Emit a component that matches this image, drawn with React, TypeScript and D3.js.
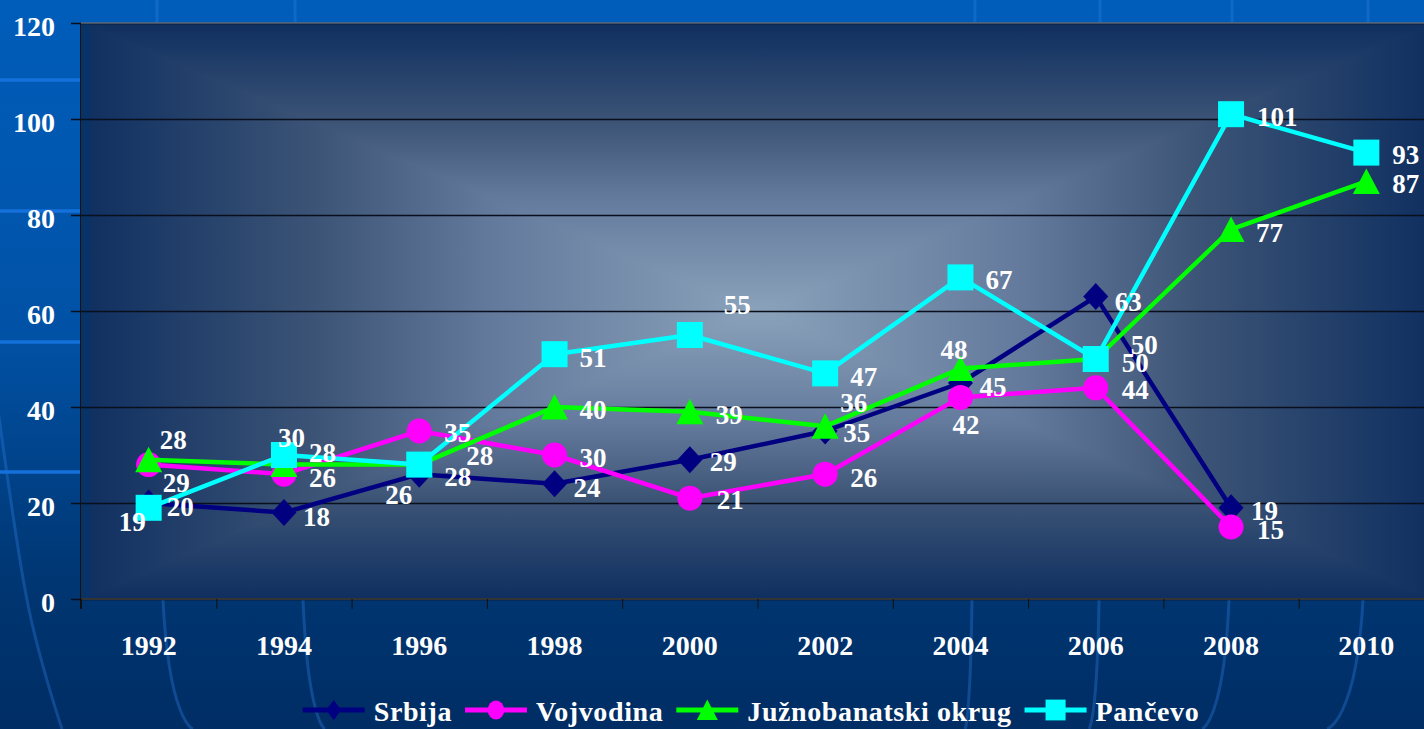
import React, { useEffect, useRef } from "react";
import * as d3 from "d3";

// chart data
const years = ["1992", "1994", "1996", "1998", "2000", "2002", "2004", "2006", "2008", "2010"];
const srbija = [20, 18, 26, 24, 29, 35, 45, 63, 19, null];
const vojvodina = [28, 26, 35, 30, 21, 26, 42, 44, 15, null];
const juznobanatski = [29, 28, 28, 40, 39, 36, 48, 50, 77, 87];
const pancevo = [19, 30, 28, 51, 55, 47, 67, 50, 101, 93];
const yTicks = [0, 20, 40, 60, 80, 100, 120];
const seriesNames = ["Srbija", "Vojvodina", "Južnobanatski okrug", "Pančevo"];

// label nudges [dx, dy] from the point (labels were hand-placed in the original)
const labelNudge = [
  [[18, 4], [19, 4], [-34, 21], [19, 4], [20, 2], [18, 2], [19, 4], [19, 5], [20, 3], [0, 0]],
  [[11, -25], [25, 4], [25, 2], [25, 3], [27, 2], [25, 4], [-8, 28], [26, 2], [26, 3], [0, 0]],
  [[14, 23], [25, -12], [47, -9], [25, 3], [26, 3], [15, -23], [-20, -19], [35, -14], [25, 4], [26, 3]],
  [[-30, 14], [-6, -17], [25, 12], [25, 4], [34, -30], [25, 4], [25, 3], [26, 4], [26, 3], [26, 2]],
];

const W = 1424;
const H = 729;
const FONT = "'Liberation Serif', 'DejaVu Serif', serif";

const App = () => {
  const svgRef = useRef(null);

  useEffect(() => {
    document.body.style.margin = "0";
    const svg = d3.select(svgRef.current);
    svg.selectAll("*").remove();

    const plot = { left: 81, top: 23, right: 81 + 135.3 * 10, bottom: 599 };
    const cx = (plot.left + plot.right) / 2;
    const cy = (plot.top + plot.bottom) / 2;

    const x = d3.scaleBand().domain(years).range([plot.left, plot.right]).paddingInner(0);
    const xc = (i) => x(years[i]) + x.bandwidth() / 2;
    const y = d3.scaleLinear().domain([0, 120]).range([plot.bottom, plot.top]);

    const defs = svg.append("defs");

    // slide background
    const bg = defs.append("linearGradient").attr("id", "slideBg").attr("x1", 0).attr("y1", 0).attr("x2", 0).attr("y2", 1);
    [["0%", "#005DBA"], ["45%", "#0152A6"], ["80%", "#003672"], ["100%", "#002D64"]].forEach(([o, c]) =>
      bg.append("stop").attr("offset", o).attr("stop-color", c)
    );
    svg.append("rect").attr("width", W).attr("height", H).attr("fill", "url(#slideBg)");

    // decorative slide lines
    const deco = svg.append("g").attr("fill", "none").attr("stroke", "rgba(45,125,225,0.35)").attr("stroke-width", 3);
    const fan = [
      [[-6, 380], [27, 600], [62, 729]],
      [[157, 0], [163, 600], [193, 729]],
      [[295, 0], [303, 600], [325, 729]],
      [[975, 0], [972, 600], [965, 729]],
      [[1100, 0], [1099, 600], [1089, 729]],
      [[1232, 0], [1229, 600], [1202, 729]],
      [[1368, 0], [1363, 600], [1327, 729]],
    ];
    fan.forEach((pts) => deco.append("path").attr("d", d3.line().curve(d3.curveCardinal)(pts)));
    [80, 211, 342, 472].forEach((yy) =>
      svg.append("line").attr("x1", 0).attr("x2", plot.left).attr("y1", yy).attr("y2", yy)
        .attr("stroke", "#1470DA").attr("stroke-width", 3.5)
    );

    // plot area: rectangular "from center" gradient built from four triangles
    const stops = [["0%", "#0F2F60"], ["35%", "#3C5476"], ["60%", "#63799C"], ["100%", "#8AA2BA"]];
    const tri = [
      { id: "gTop", g: [cx, plot.top, cx, cy], pts: [[plot.left, plot.top], [plot.right, plot.top], [cx, cy]] },
      { id: "gBot", g: [cx, plot.bottom, cx, cy], pts: [[plot.left, plot.bottom], [plot.right, plot.bottom], [cx, cy]] },
      { id: "gLeft", g: [plot.left, cy, cx, cy], pts: [[plot.left, plot.top], [plot.left, plot.bottom], [cx, cy]] },
      { id: "gRight", g: [plot.right, cy, cx, cy], pts: [[plot.right, plot.top], [plot.right, plot.bottom], [cx, cy]] },
    ];
    tri.forEach((t) => {
      const lg = defs.append("linearGradient").attr("id", t.id).attr("gradientUnits", "userSpaceOnUse")
        .attr("x1", t.g[0]).attr("y1", t.g[1]).attr("x2", t.g[2]).attr("y2", t.g[3]);
      stops.forEach(([o, c]) => lg.append("stop").attr("offset", o).attr("stop-color", c));
    });
    svg.append("rect").attr("x", plot.left).attr("y", plot.top)
      .attr("width", plot.right - plot.left).attr("height", plot.bottom - plot.top).attr("fill", "#3C5476");
    tri.forEach((t) =>
      svg.append("path").attr("d", "M" + t.pts.map((p) => p.join(",")).join("L") + "Z")
        .attr("fill", `url(#${t.id})`).attr("stroke", `url(#${t.id})`).attr("stroke-width", 0.8)
    );
    // darker strip along the left edge
    svg.append("rect").attr("x", plot.left).attr("y", plot.top).attr("width", 10)
      .attr("height", plot.bottom - plot.top).attr("fill", "#03386E").attr("opacity", 0.45);

    // gridlines + y ticks
    yTicks.forEach((t) => {
      svg.append("line").attr("x1", plot.left - 10).attr("x2", plot.right)
        .attr("y1", y(t) + 0.5).attr("y2", y(t) + 0.5)
        .attr("stroke", "#0a0f1c").attr("stroke-width", 1.3);
    });
    svg.append("line").attr("x1", plot.left).attr("x2", plot.right).attr("y1", plot.top).attr("y2", plot.top)
      .attr("stroke", "#8592A2").attr("stroke-width", 1.2);

    // axes
    svg.append("line").attr("x1", plot.left - 0.5).attr("x2", plot.left - 0.5)
      .attr("y1", plot.top).attr("y2", plot.bottom + 10).attr("stroke", "#111").attr("stroke-width", 1);
    svg.append("line").attr("x1", plot.left).attr("x2", plot.right)
      .attr("y1", plot.bottom).attr("y2", plot.bottom).attr("stroke", "#343434").attr("stroke-width", 2);
    years.forEach((yr) => {
      const bx = x(yr) + 0.5;
      svg.append("line").attr("x1", bx).attr("x2", bx).attr("y1", plot.bottom).attr("y2", plot.bottom + 10)
        .attr("stroke", "#111").attr("stroke-width", 1);
    });

    svg.append("g").selectAll("text").data(yTicks).join("text")
      .attr("x", 55).attr("y", (d) => y(d) + 12.5).attr("text-anchor", "end")
      .style("font-family", FONT).attr("font-weight", "bold").attr("font-size", 28).attr("fill", "white")
      .text((d) => d);
    svg.append("g").selectAll("text").data(years).join("text")
      .attr("x", (d, i) => xc(i)).attr("y", 655).attr("text-anchor", "middle")
      .style("font-family", FONT).attr("font-weight", "bold").attr("font-size", 28).attr("fill", "white")
      .text((d) => d);

    // series
    const series = [
      { values: srbija, color: "#000080", shape: "diamond" },
      { values: vojvodina, color: "#FF00FF", shape: "circle" },
      { values: juznobanatski, color: "#00FF00", shape: "triangle" },
      { values: pancevo, color: "#00FFFF", shape: "square" },
    ];

    const marker = (g, shape, color, px, py, sx = 1, sy = 1) => {
      if (shape === "circle") {
        g.append("ellipse").attr("cx", px).attr("cy", py).attr("rx", 12.5 * sx).attr("ry", 12.5 * sy).attr("fill", color);
      } else if (shape === "square") {
        g.append("rect").attr("x", px - 13 * sx).attr("y", py - 13 * sy).attr("width", 26 * sx).attr("height", 26 * sy).attr("fill", color);
      } else if (shape === "diamond") {
        const p = [[0, -13.5], [12.5, 0], [0, 13.5], [-12.5, 0]];
        g.append("path").attr("d", "M" + p.map(([a, b]) => `${px + a * sx},${py + b * sy}`).join("L") + "Z").attr("fill", color);
      } else {
        const p = [[0, -13], [13.5, 12.5], [-13.5, 12.5]];
        g.append("path").attr("d", "M" + p.map(([a, b]) => `${px + a * sx},${py + b * sy}`).join("L") + "Z").attr("fill", color);
      }
    };

    const line = d3.line()
      .defined((d) => d != null)
      .x((d, i) => xc(i))
      .y((d) => y(d));

    series.forEach((s) => {
      const g = svg.append("g");
      g.append("path").attr("d", line(s.values)).attr("fill", "none")
        .attr("stroke", s.color).attr("stroke-width", 4.5).attr("stroke-linejoin", "round");
      s.values.forEach((v, i) => {
        if (v == null) return;
        marker(g, s.shape, s.color, xc(i), y(v));
      });
    });

    // data labels
    series.forEach((s, si) => {
      s.values.forEach((v, i) => {
        if (v == null) return;
        const [dx, dy] = labelNudge[si][i];
        svg.append("text").attr("x", xc(i) + dx).attr("y", y(v) + dy + 9)
          .style("font-family", FONT).attr("font-weight", "bold").attr("font-size", 27).attr("fill", "white")
          .text(v);
      });
    });

    // legend
    const lg = svg.append("g");
    const items = [];
    let cursor = 0;
    series.forEach((s, si) => {
      const item = lg.append("g");
      item.append("line").attr("x1", 0).attr("x2", 62).attr("y1", 710).attr("y2", 710)
        .attr("stroke", s.color).attr("stroke-width", 5);
      const markerScale = { diamond: [0.6, 0.75], circle: [0.66, 0.76], triangle: [0.78, 0.8], square: [0.77, 0.8] }[s.shape];
      marker(item, s.shape, s.color, 31, 710, markerScale[0], markerScale[1]);
      const t = item.append("text").attr("x", 71).attr("y", 721)
        .style("font-family", FONT).attr("font-weight", "bold").attr("font-size", 28)
        .attr("letter-spacing", 0.6).attr("fill", "white")
        .text(seriesNames[si]);
      const w = 71 + t.node().getComputedTextLength();
      items.push({ item, start: cursor });
      cursor += w + 13;
    });
    const total = cursor - 13;
    const startX = 751 - total / 2;
    items.forEach(({ item, start }) => item.attr("transform", `translate(${startX + start},0)`));
  }, []);

  return (
    <svg ref={svgRef} width={W} height={H} style={{ display: "block" }} />
  );
};

export default App;
